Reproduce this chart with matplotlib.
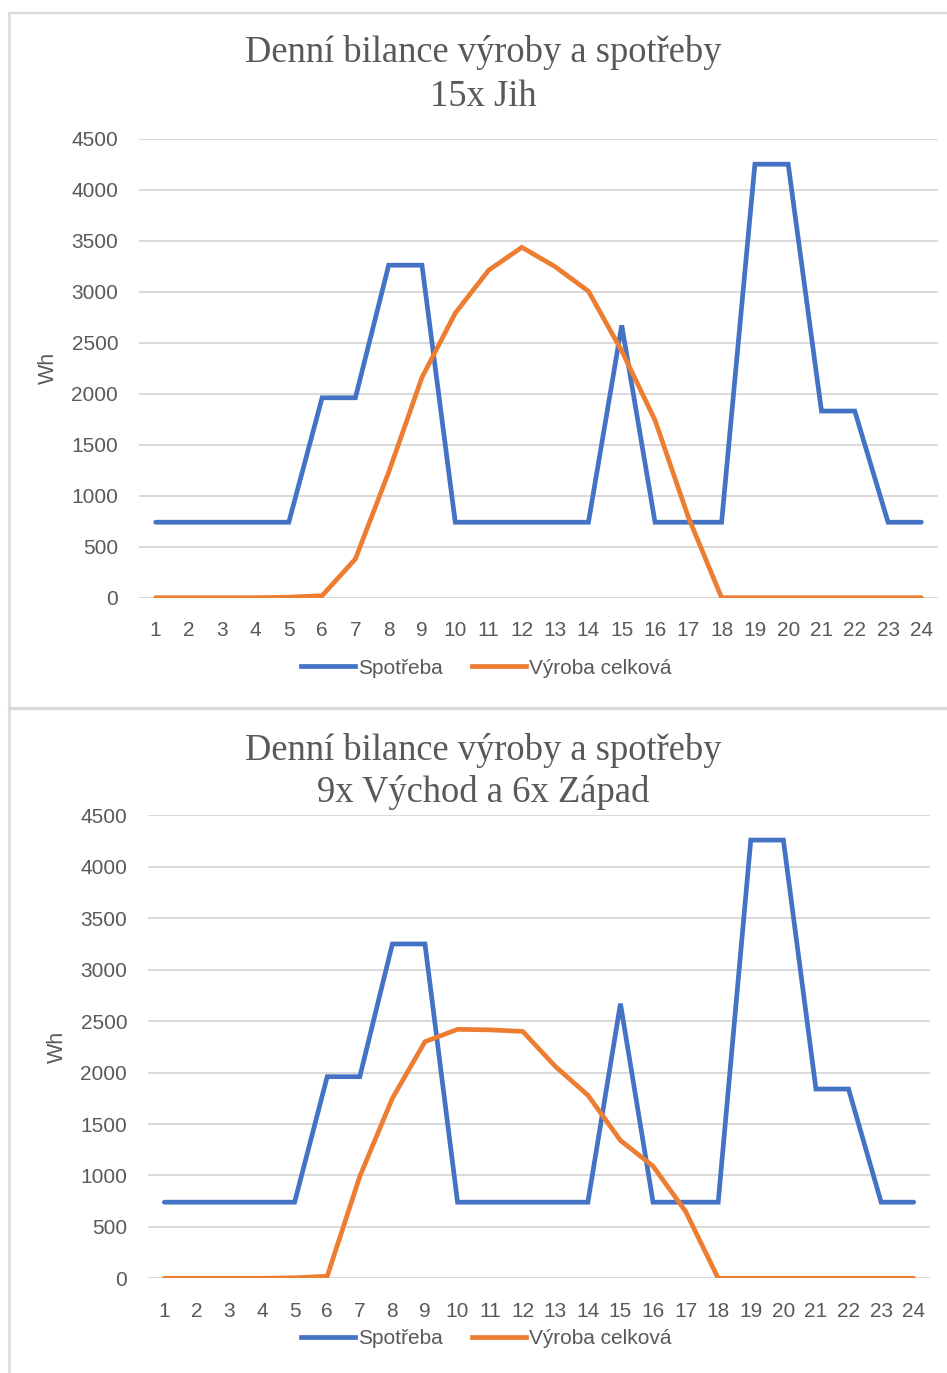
import matplotlib
matplotlib.use("Agg")
import matplotlib.pyplot as plt
from matplotlib.lines import Line2D

# ---------------- data ----------------
hours = list(range(1, 25))
hour_labels = [str(h) for h in hours]
yticks = [0, 500, 1000, 1500, 2000, 2500, 3000, 3500, 4000, 4500]

titles_top = ["Denní bilance výroby a spotřeby", "15x Jih"]
titles_bottom = ["Denní bilance výroby a spotřeby", "9x Východ a 6x Západ"]
series_names = ["Spotřeba", "Výroba celková"]

spotreba_jih = [740, 740, 740, 740, 740, 1960, 1960, 3260, 3260, 740, 740, 740,
                740, 740, 2670, 740, 740, 740, 4250, 4250, 1830, 1830, 740, 740]
vyroba_jih = [0, 0, 0, 0, 5, 20, 380, 1230, 2160, 2790, 3210, 3435,
              3245, 3005, 2420, 1740, 790, 0, 0, 0, 0, 0, 0, 0]

spotreba_vz = [740, 740, 740, 740, 740, 1960, 1960, 3250, 3250, 740, 740, 740,
               740, 740, 2670, 740, 740, 740, 4260, 4260, 1840, 1840, 740, 740]
vyroba_vz = [0, 0, 0, 0, 5, 20, 990, 1750, 2300, 2420, 2415, 2400,
             2060, 1780, 1340, 1090, 650, 0, 0, 0, 0, 0, 0, 0]

# ---------------- style ----------------
W, H = 947, 1373
DPI = 100
BLUE = "#4472C4"
ORANGE = "#ED7D31"
GRAY_TXT = "#595959"
GRID = "#d9d9d9"
BORDER = "#d9d9d9"
SANS = ["Liberation Sans", "DejaVu Sans"]
SERIF = ["Liberation Serif", "DejaVu Serif"]

fig = plt.figure(figsize=(W / DPI, H / DPI), dpi=DPI)
fig.patch.set_facecolor("white")


def fx(px):
    return px / W


def fy(py):
    return 1 - py / H


def add_panel(left, right, top, bottom, spot, vyr, titles, title_y, wh_x, legend_y):
    ax = fig.add_axes([fx(left), fy(bottom), fx(right - left), (bottom - top) / H])
    ax.plot(hours, spot, color=BLUE, lw=3.4, solid_joinstyle="miter",
            solid_capstyle="round", label=series_names[0], zorder=3)
    ax.plot(hours, vyr, color=ORANGE, lw=3.4, solid_joinstyle="miter",
            solid_capstyle="round", label=series_names[1], zorder=3)
    ax.set_xlim(0.5, 24.5)
    ax.set_ylim(0, 4500)
    ax.set_yticks(yticks)
    ax.set_yticklabels([str(v) for v in yticks])
    ax.set_xticks(hours)
    ax.set_xticklabels(hour_labels)
    for s in ax.spines.values():
        s.set_visible(False)
    ax.yaxis.grid(True, color=GRID, lw=1.4, zorder=0)
    ax.set_axisbelow(True)
    ax.tick_params(axis="both", length=0, colors=GRAY_TXT, labelsize=15)
    ax.tick_params(axis="y", pad=15)
    ax.tick_params(axis="x", pad=17)
    for lab in ax.get_xticklabels() + ax.get_yticklabels():
        lab.set_family(SANS)
    ax.set_facecolor("none")
    # titles
    cx = fx(483)
    fig.text(cx, fy(title_y[0]), titles[0], ha="center", va="center",
             family=SERIF, fontsize=26.3, color=GRAY_TXT)
    fig.text(cx, fy(title_y[1]), titles[1], ha="center", va="center",
             family=SERIF, fontsize=26.3, color=GRAY_TXT)
    # y label
    fig.text(fx(wh_x), fy((top + bottom) / 2), "Wh", rotation=90, ha="center", va="center",
             family=SANS, fontsize=15.5, color=GRAY_TXT)
    # legend
    handles = [Line2D([], [], color=BLUE, lw=3.4), Line2D([], [], color=ORANGE, lw=3.4)]
    fig.legend(handles, series_names, loc="center", bbox_to_anchor=(fx(486), fy(legend_y)),
               ncol=2, frameon=False, handlelength=2.6, handletextpad=0.15,
               columnspacing=1.4, prop={"family": SANS, "size": 15},
               labelcolor=GRAY_TXT)
    return ax


add_panel(139, 938, 138.7, 597.7, spotreba_jih, vyroba_jih, titles_top, (53, 97), 48, 668)
add_panel(148, 930, 815.4, 1278.3, spotreba_vz, vyroba_vz, titles_bottom, (751, 793), 57, 1339)

# panel borders
border_kw = dict(color=BORDER, transform=fig.transFigure, figure=fig)
fig.lines.append(Line2D([fx(8.5), fx(947)], [fy(12.5), fy(12.5)], lw=1.6, **border_kw))
fig.lines.append(Line2D([fx(8.5), fx(8.5)], [fy(12.5), fy(1373)], lw=1.8, **border_kw))
fig.lines.append(Line2D([fx(8.5), fx(947)], [fy(708), fy(708)], lw=2.4, **border_kw))

fig.savefig("out.png", dpi=DPI, facecolor="white")
